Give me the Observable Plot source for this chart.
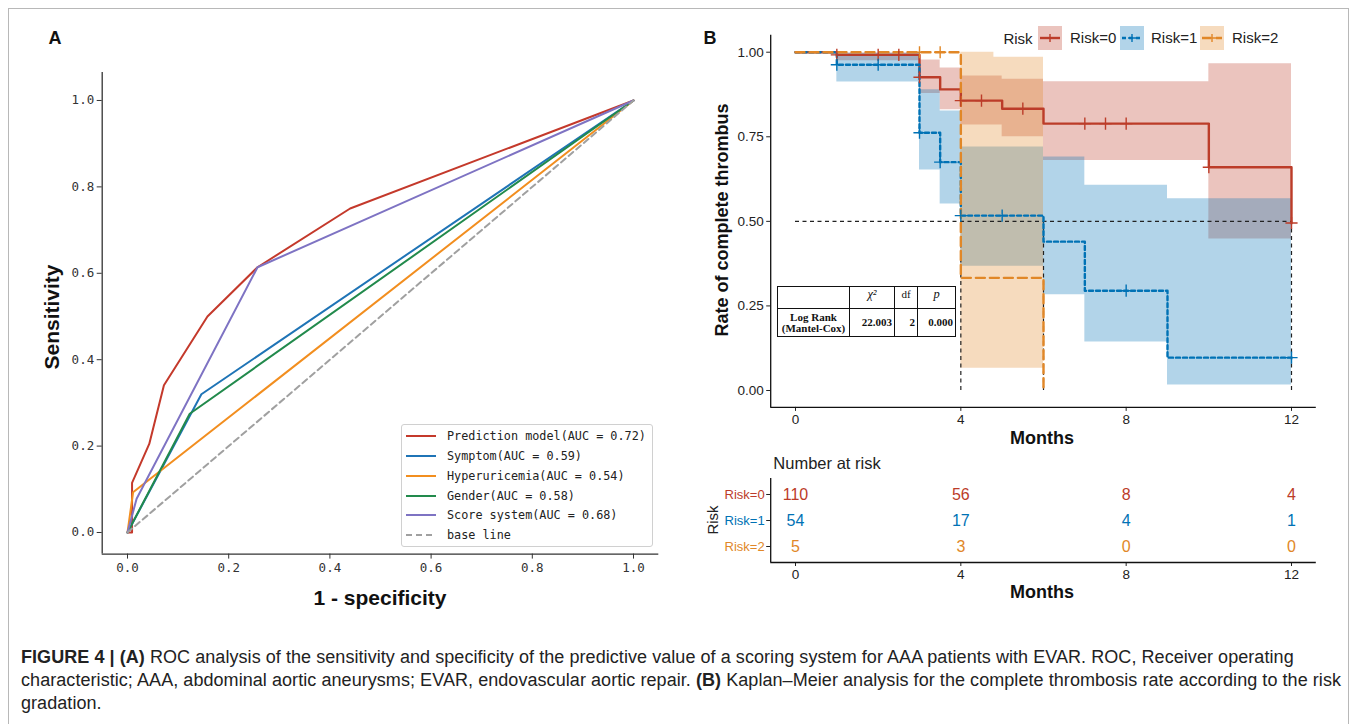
<!DOCTYPE html>
<html><head><meta charset="utf-8">
<script src="https://cdn.jsdelivr.net/npm/d3@7"></script>
<script src="https://cdn.jsdelivr.net/npm/@observablehq/plot@0.6"></script>
<style>
body{margin:0;background:#fff;}
#root{position:relative;width:1357px;height:724px;overflow:hidden;font-family:"Liberation Sans",Arial,sans-serif;color:#222;}
.abs{position:absolute;white-space:nowrap;}
</style></head><body><div id="root"></div>
<script>
// ---------------- Panel A data (ROC) ----------------
const rocNames = ["Prediction model", "Symptom", "Hyperuricemia", "Gender", "Score system", "base line"];
const rocAUC = ["0.72", "0.59", "0.54", "0.58", "0.68", null];
const rocColors = ["#c4392b", "#1f74b6", "#f28e1f", "#228a4c", "#7e73c3", "#a0a0a0"];
const predFPR = [0, 0.009, 0.009, 0.043, 0.072, 0.158, 0.257, 0.44, 1];
const predTPR = [0, 0, 0.115, 0.205, 0.341, 0.5, 0.614, 0.75, 1];
const symFPR = [0, 0.146, 1];
const symTPR = [0, 0.32, 1];
const hypFPR = [0, 0.011, 1];
const hypTPR = [0, 0.093, 1];
const genFPR = [0, 0.123, 1];
const genTPR = [0, 0.275, 1];
const scoFPR = [0, 0.018, 0.257, 1];
const scoTPR = [0, 0.078, 0.614, 1];
const baseFPR = [0, 1];
const baseTPR = [0, 1];
const rocTicks = [0, 0.2, 0.4, 0.6, 0.8, 1.0];

// ---------------- Panel B data (Kaplan-Meier) ----------------
const strata = ["Risk=0", "Risk=1", "Risk=2"];
const kmColors = ["#BC3C29", "#0072B5", "#E18727"];
const km0T = [0, 1, 3, 3.5, 4, 5, 6, 10, 12];
const km0S = [1, 0.992, 0.926, 0.89, 0.857, 0.833, 0.789, 0.66, 0.495];
const km1T = [0, 1, 3, 3.5, 4, 6, 7, 9, 12];
const km1S = [1, 0.963, 0.762, 0.675, 0.517, 0.44, 0.295, 0.097, 0.097];
const km2T = [0, 4, 6];
const km2S = [1, 0.333, 0];
const ci0T = [1, 3, 3.5, 4, 5, 6, 10, 12];
const ci0Lo = [0.975, 0.878, 0.83, 0.785, 0.75, 0.68, 0.448, 0.448];
const ci0Hi = [0.998, 0.977, 0.953, 0.93, 0.92, 0.913, 0.966, 0.966];
const ci1T = [1, 3, 3.5, 4, 6, 7, 9, 12];
const ci1Lo = [0.912, 0.652, 0.551, 0.367, 0.283, 0.143, 0.016, 0.016];
const ci1Hi = [0.997, 0.889, 0.826, 0.72, 0.69, 0.607, 0.567, 0.567];
const ci2T = [4, 4.8, 6];
const ci2Lo = [0.066, 0.066, 0.066];
const ci2Hi = [1, 0.985, 0.985];
const cens0T = [1, 2, 2.5, 3, 4, 4.5, 5.5, 7, 7.5, 8, 10, 12];
const cens0S = [0.992, 0.992, 0.992, 0.926, 0.857, 0.857, 0.833, 0.789, 0.789, 0.789, 0.66, 0.495];
const cens1T = [1, 2, 3, 3.5, 4, 5, 8, 12];
const cens1S = [0.963, 0.963, 0.762, 0.675, 0.517, 0.517, 0.295, 0.097];
const cens2T = [3, 3.5];
const cens2S = [1, 1];
const medians = [4, 6, 12];
const kmXTicks = [0, 4, 8, 12];
const kmYTicks = [0, 0.25, 0.5, 0.75, 1];
const riskTimes = [0, 4, 8, 12];
const nRisk0 = [110, 56, 8, 4];
const nRisk1 = [54, 17, 4, 1];
const nRisk2 = [5, 3, 0, 0];
const logRankHead = ["", "χ²", "df", "p"];
const logRankRow = ["Log Rank\n(Mantel-Cox)", "22.003", "2", "0.000"];

const captionLines = [
  [["b", "FIGURE 4 | (A)"], ["", " ROC analysis of the sensitivity and specificity of the predictive value of a scoring system for AAA patients with EVAR. ROC, Receiver operating"]],
  [["", "characteristic; AAA, abdominal aortic aneurysms; EVAR, endovascular aortic repair. "], ["b", "(B)"], ["", " Kaplan–Meier analysis for the complete thrombosis rate according to the risk"]],
  [["", "gradation."]]
];

// ---------------- helpers ----------------
const root = document.getElementById("root");
function place(el, left, top) { el.style.position = "absolute"; el.style.left = left + "px"; el.style.top = top + "px"; root.appendChild(el); return el; }
function label(txt, cx, cy, css, rot) {
  const d = document.createElement("div");
  d.className = "abs"; d.textContent = txt;
  d.style.cssText += css;
  d.style.left = cx + "px"; d.style.top = cy + "px";
  d.style.transform = "translate(-50%,-50%)" + (rot ? " rotate(" + rot + "deg)" : "");
  root.appendChild(d); return d;
}

// border
const frame = document.createElement("div");
frame.style.cssText = "position:absolute;left:8px;top:8px;width:1341px;height:760px;border:1px solid #b8b8b8;box-sizing:border-box;";
root.appendChild(frame);

// ---------------- Panel A ----------------
const rocFPR = [predFPR, symFPR, hypFPR, genFPR, scoFPR];
const rocTPR = [predTPR, symTPR, hypTPR, genTPR, scoTPR];
const rocRows = [];
rocFPR.forEach((xs, i) => xs.forEach((x, j) => rocRows.push({s: rocNames[i], fpr: x, tpr: rocTPR[i][j], c: rocColors[i]})));
const baseRows = baseFPR.map((x, j) => ({fpr: x, tpr: baseTPR[j]}));
const axA = [-0.05, 1.05], ayA = [-0.05, 1.065];
const plotA = Plot.plot({
  width: 680, height: 630,
  marginLeft: 101.7, marginRight: 21.7, marginTop: 71.9, marginBottom: 76.4,
  x: {domain: axA}, y: {domain: ayA},
  style: {fontFamily: "'DejaVu Sans Mono', monospace", fontSize: "12.5px", color: "#333", background: "transparent", overflow: "visible"},
  marks: [
    Plot.axisX({ticks: rocTicks, tickSize: 5, tickPadding: 4, label: null, tickFormat: d3.format(".1f")}),
    Plot.axisY({ticks: rocTicks, tickSize: 5, tickPadding: 3, label: null, tickFormat: d3.format(".1f")}),
    Plot.ruleX([axA[0]], {stroke: "#333", strokeWidth: 1.3}),
    Plot.ruleY([ayA[0]], {stroke: "#333", strokeWidth: 1.3}),
    Plot.line(rocRows, {x: "fpr", y: "tpr", z: "s", stroke: "c", strokeWidth: 2}),
    Plot.line(baseRows, {x: "fpr", y: "tpr", stroke: rocColors[5], strokeWidth: 2, strokeDasharray: "6,4"})
  ]
});
place(plotA, 0, 0);

// legend A
const legA = document.createElement("div");
legA.style.cssText = "position:absolute;left:401px;top:424px;width:252px;height:123px;border:1px solid #d0d0d0;border-radius:3px;background:rgba(255,255,255,0.8);box-sizing:border-box;";
root.appendChild(legA);
rocNames.forEach((n, i) => {
  const y = 436 + i * 19.85;
  const sw = document.createElementNS("http://www.w3.org/2000/svg", "svg");
  sw.setAttribute("width", 32); sw.setAttribute("height", 6);
  sw.innerHTML = `<line x1="1" y1="3" x2="31" y2="3" stroke="${rocColors[i]}" stroke-width="2" ${i === 5 ? 'stroke-dasharray="6,4"' : ''}/>`;
  place(sw, 405, y - 3);
  const t = rocAUC[i] ? `${n}(AUC = ${rocAUC[i]})` : n;
  const d = document.createElement("div");
  d.className = "abs"; d.textContent = t;
  d.style.cssText += "font-family:'DejaVu Sans Mono',monospace;font-size:11.8px;color:#222;line-height:14px;";
  place(d, 447, y - 7);
});

label("A", 55, 38, "font-weight:bold;font-size:18px;color:#111;");
label("Sensitivity", 52, 317, "font-weight:bold;font-size:21px;color:#111;", -90);
label("1 - specificity", 380, 598, "font-weight:bold;font-size:21px;color:#111;");

// ---------------- Panel B ----------------
const mk = (T, S) => T.map((t, i) => ({t, s: S[i]}));
const mkci = (T, L, U) => T.map((t, i) => ({t, lo: L[i], hi: U[i]}));
const axB = [-0.6, 12.6], ayB = [-0.05, 1.05];
const kmLines = [mk(km0T, km0S), mk(km1T, km1S), mk(km2T, km2S)];
const kmCI = [mkci(ci0T, ci0Lo, ci0Hi), mkci(ci1T, ci1Lo, ci1Hi), mkci(ci2T, ci2Lo, ci2Hi)];
const kmCens = [mk(cens0T, cens0S), mk(cens1T, cens1S), mk(cens2T, cens2S)];
const dashes = [null, "4,3", "9,5"];
const plotB = Plot.plot({
  width: 657, height: 432,
  marginLeft: 70.2, marginRight: 41.2, marginTop: 34.8, marginBottom: 25.1,
  x: {domain: axB}, y: {domain: ayB},
  style: {fontFamily: "'Liberation Sans', Arial, sans-serif", fontSize: "13.5px", color: "#222", background: "transparent", overflow: "visible"},
  marks: [
    ...kmCI.map((d, i) => Plot.areaY(d, {x: "t", y1: "lo", y2: "hi", curve: "step-after", fill: kmColors[i], fillOpacity: 0.3})),
    Plot.ruleY([0.5], {x1: 0, x2: d3.max(medians), stroke: "#222", strokeWidth: 1.2, strokeDasharray: "4,3.5"}),
    Plot.ruleX(medians, {y1: 0, y2: 0.5, stroke: "#222", strokeWidth: 1.2, strokeDasharray: "4,3.5"}),
    ...kmLines.map((d, i) => Plot.line(d, {x: "t", y: "s", curve: "step-after", stroke: kmColors[i], strokeWidth: 2.4, strokeDasharray: dashes[i]})),
    ...kmCens.map((d, i) => Plot.dot(d, {x: "t", y: "s", symbol: "plus", r: 4, stroke: kmColors[i], strokeWidth: 1.4})),
    Plot.axisX({ticks: kmXTicks, tickSize: 4, tickPadding: 3, label: null}),
    Plot.axisY({ticks: kmYTicks, tickSize: 4, tickPadding: 3, label: null, tickFormat: d3.format(".2f")}),
    Plot.ruleX([axB[0]], {stroke: "#111", strokeWidth: 1.3}),
    Plot.ruleY([ayB[0]], {stroke: "#111", strokeWidth: 1.3})
  ]
});
place(plotB, 700, 0);

label("B", 710, 38, "font-weight:bold;font-size:18px;color:#111;");
label("Rate of complete thrombus", 722, 220, "font-weight:bold;font-size:18px;color:#111;", -90);
label("Months", 1042, 438, "font-weight:bold;font-size:18px;color:#111;");

// legend B
label("Risk", 1018, 38, "font-size:15px;color:#222;");
const legX = [1038, 1120, 1200];
const legTX = [1070, 1151, 1232];
strata.forEach((s, i) => {
  const sw = document.createElementNS("http://www.w3.org/2000/svg", "svg");
  sw.setAttribute("width", 24); sw.setAttribute("height", 24);
  sw.innerHTML = `<rect x="0" y="0" width="24" height="24" fill="${kmColors[i]}" fill-opacity="0.3"/>` +
    `<line x1="2" y1="12" x2="22" y2="12" stroke="${kmColors[i]}" stroke-width="2.4" ${dashes[i] ? `stroke-dasharray="${dashes[i]}"` : ""}/>` +
    `<path d="M12,8V16M8,12H16" stroke="${kmColors[i]}" stroke-width="1.4"/>`;
  place(sw, legX[i], 26);
  const d = document.createElement("div");
  d.className = "abs"; d.textContent = s;
  d.style.cssText += "font-size:15px;color:#222;line-height:18px;";
  place(d, legTX[i], 29);
});

// log-rank table
const tbl = document.createElement("table");
tbl.style.cssText = "position:absolute;left:777px;top:286px;border-collapse:collapse;font-family:'Liberation Serif','Times New Roman',serif;font-size:11px;color:#111;background:#fff;";
const widths = [72, 45, 23, 38];
[logRankHead, logRankRow].forEach((row, r) => {
  const tr = document.createElement("tr");
  row.forEach((v, c) => {
    const td = document.createElement("td");
    td.style.cssText = `border:1.5px solid #111;width:${widths[c]}px;padding:0 2px;box-sizing:border-box;height:${r === 0 ? 22 : 28}px;line-height:11px;` +
      (r === 0 ? "text-align:center;vertical-align:top;padding-top:2px;" : (c === 0 ? "text-align:center;font-weight:bold;" : "text-align:right;font-weight:bold;")) +
      ((r === 0 && (c === 1 || c === 3)) ? "font-style:italic;font-size:12.5px;" : "");
    v.split("\n").forEach((p, k) => { if (k) td.appendChild(document.createElement("br")); td.appendChild(document.createTextNode(p)); });
    tr.appendChild(td);
  });
  tbl.appendChild(tr);
});
root.appendChild(tbl);

// ---------------- Risk table ----------------
const nRisk = [nRisk0, nRisk1, nRisk2];
const riskRows = [];
nRisk.forEach((arr, i) => arr.forEach((n, j) => riskRows.push({t: riskTimes[j], g: i, n, c: kmColors[i]})));
const ayR = [2.615, -0.615];
const plotR = Plot.plot({
  width: 657, height: 120,
  marginLeft: 70.2, marginRight: 41.2, marginTop: 8, marginBottom: 28,
  x: {domain: axB}, y: {domain: ayR},
  style: {fontFamily: "'Liberation Sans', Arial, sans-serif", fontSize: "13.5px", color: "#222", background: "transparent", overflow: "visible"},
  marks: [
    Plot.text(riskRows, {x: "t", y: "g", text: "n", fill: "c", fontSize: 16}),
    Plot.text(strata.map((s, i) => i), {y: d => d, text: d => strata[d], fill: d => kmColors[d], frameAnchor: "left", textAnchor: "end", dx: -6, fontSize: 13}),
    Plot.axisY({ticks: [0, 1, 2], tickSize: 4, tickFormat: () => "", label: null}),
    Plot.axisX({ticks: kmXTicks, tickSize: 4, tickPadding: 3, label: null}),
    Plot.ruleX([axB[0]], {stroke: "#111", strokeWidth: 1.3}),
    Plot.ruleY([ayR[0]], {stroke: "#111", strokeWidth: 1.3})
  ]
});
place(plotR, 700, 470);
label("Number at risk", 827, 463, "font-size:16.5px;color:#222;");
label("Risk", 712, 520, "font-size:15px;color:#222;", -90);
label("Months", 1042, 592, "font-weight:bold;font-size:18px;color:#111;");

// ---------------- Caption ----------------
const cap = document.createElement("div");
cap.style.cssText = "position:absolute;left:21px;top:646px;font-size:18px;letter-spacing:0.06px;line-height:23px;color:#222;white-space:nowrap;";
captionLines.forEach((line, k) => {
  if (k) cap.appendChild(document.createElement("br"));
  line.forEach(([tag, txt]) => {
    const e = document.createElement(tag === "b" ? "b" : "span");
    e.textContent = txt; cap.appendChild(e);
  });
});
root.appendChild(cap);
</script>
</body></html>
